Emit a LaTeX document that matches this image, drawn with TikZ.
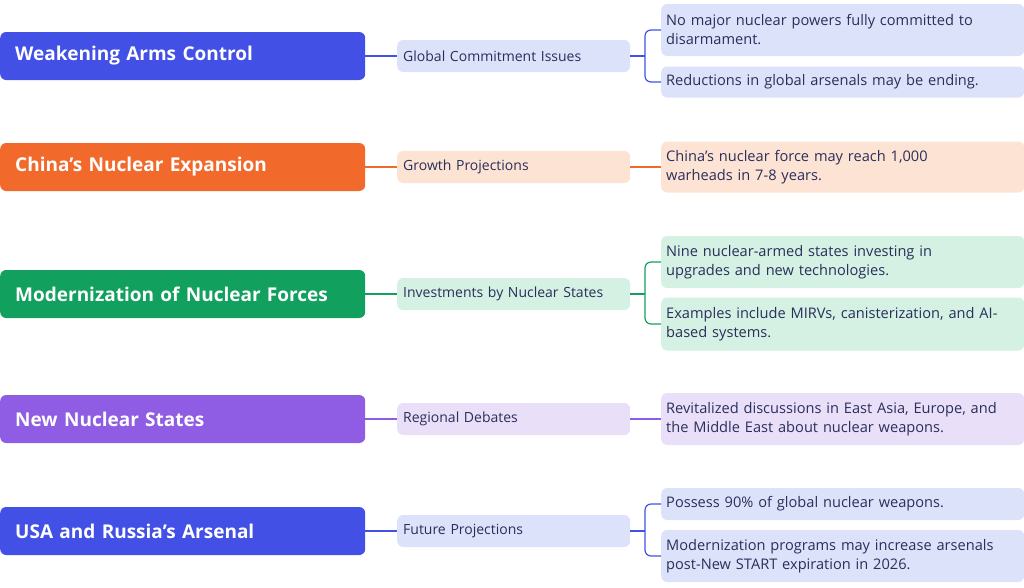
\documentclass[tikz,border=0pt]{standalone}
\usepackage{fontspec}
\setmainfont{Open Sans}
\definecolor{cb}{HTML}{4250E6}\definecolor{cbl}{HTML}{DDE2FB}
\definecolor{co}{HTML}{F26A2B}\definecolor{col}{HTML}{FCE3D4}
\definecolor{cg}{HTML}{12A05E}\definecolor{cgl}{HTML}{D4F1E3}
\definecolor{cp}{HTML}{8E5DE3}\definecolor{cpl}{HTML}{E9DFF9}
\definecolor{tx}{HTML}{2A2F5A}
\tikzset{
 main/.style={fill=#1,rounded corners=6pt,minimum width=365pt,minimum height=48pt,text=white,font=\fontsize{19}{22}\selectfont\bfseries,align=left,text width=335pt,inner sep=0pt,inner xsep=15pt},
 mid/.style={fill=#1,rounded corners=6pt,minimum width=233pt,minimum height=32pt,text=tx,font=\fontsize{14}{16}\selectfont,text width=221pt,inner xsep=6pt,inner ysep=0pt,align=left},
 leaf/.style={fill=#1,rounded corners=6pt,minimum width=363pt,text=tx,font=\fontsize{14.6}{19}\selectfont,text width=353pt,inner xsep=5pt,inner ysep=0pt,align=left,anchor=west},
 ln/.style={draw=#1,line width=1.2pt,rounded corners=6pt}
}
\begin{document}
\begin{tikzpicture}[x=1pt,y=-1pt]
\useasboundingbox (0,0) rectangle (1024,587);
% row 1
\node[main=cb,anchor=west] (m1) at (0,56) {Weakening Arms Control};
\node[mid=cbl,anchor=west] (s1) at (397,56) {Global Commitment Issues};
\node[leaf=cbl,minimum height=52pt] (l1a) at (661,30) {No major nuclear powers fully committed to\\disarmament.};
\node[leaf=cbl,minimum height=31pt] (l1b) at (661,82) {Reductions in global arsenals may be ending.};
\draw[ln=cb] (m1.east) -- (s1.west);
\draw[ln=cb] (s1.east) -- (645,56);
\draw[ln=cb] (l1a.west) -| (645,56) |- (l1b.west);
% row 2
\node[main=co,anchor=west] (m2) at (0,167) {China's Nuclear Expansion};
\node[mid=col,anchor=west] (s2) at (397,167) {Growth Projections};
\node[leaf=col,minimum height=51pt] (l2a) at (661,167) {China's nuclear force may reach 1,000\\warheads in 7-8 years.};
\draw[ln=co] (m2.east) -- (s2.west);
\draw[ln=co] (s2.east) -- (l2a.west);
% row 3
\node[main=cg,anchor=west] (m3) at (0,294) {Modernization of Nuclear Forces};
\node[mid=cgl,anchor=west] (s3) at (397,294) {Investments by Nuclear States};
\node[leaf=cgl,minimum height=52pt] (l3a) at (661,262) {Nine nuclear-armed states investing in\\upgrades and new technologies.};
\node[leaf=cgl,minimum height=53pt] (l3b) at (661,324) {Examples include MIRVs, canisterization, and AI-\\based systems.};
\draw[ln=cg] (m3.east) -- (s3.west);
\draw[ln=cg] (s3.east) -- (645,294);
\draw[ln=cg] (l3a.west) -| (645,294) |- (l3b.west);
% row 4
\node[main=cp,anchor=west] (m4) at (0,419) {New Nuclear States};
\node[mid=cpl,anchor=west] (s4) at (397,419) {Regional Debates};
\node[leaf=cpl,minimum height=52pt] (l4a) at (661,419) {Revitalized discussions in East Asia, Europe, and\\the Middle East about nuclear weapons.};
\draw[ln=cp] (m4.east) -- (s4.west);
\draw[ln=cp] (s4.east) -- (l4a.west);
% row 5
\node[main=cb,anchor=west] (m5) at (0,531) {USA and Russia's Arsenal};
\node[mid=cbl,anchor=west] (s5) at (397,531) {Future Projections};
\node[leaf=cbl,minimum height=32pt] (l5a) at (661,504) {Possess 90\% of global nuclear weapons.};
\node[leaf=cbl,minimum height=52pt] (l5b) at (661,556) {Modernization programs may increase arsenals\\post-New START expiration in 2026.};
\draw[ln=cb] (m5.east) -- (s5.west);
\draw[ln=cb] (s5.east) -- (645,531);
\draw[ln=cb] (l5a.west) -| (645,531) |- (l5b.west);
\end{tikzpicture}
\end{document}
